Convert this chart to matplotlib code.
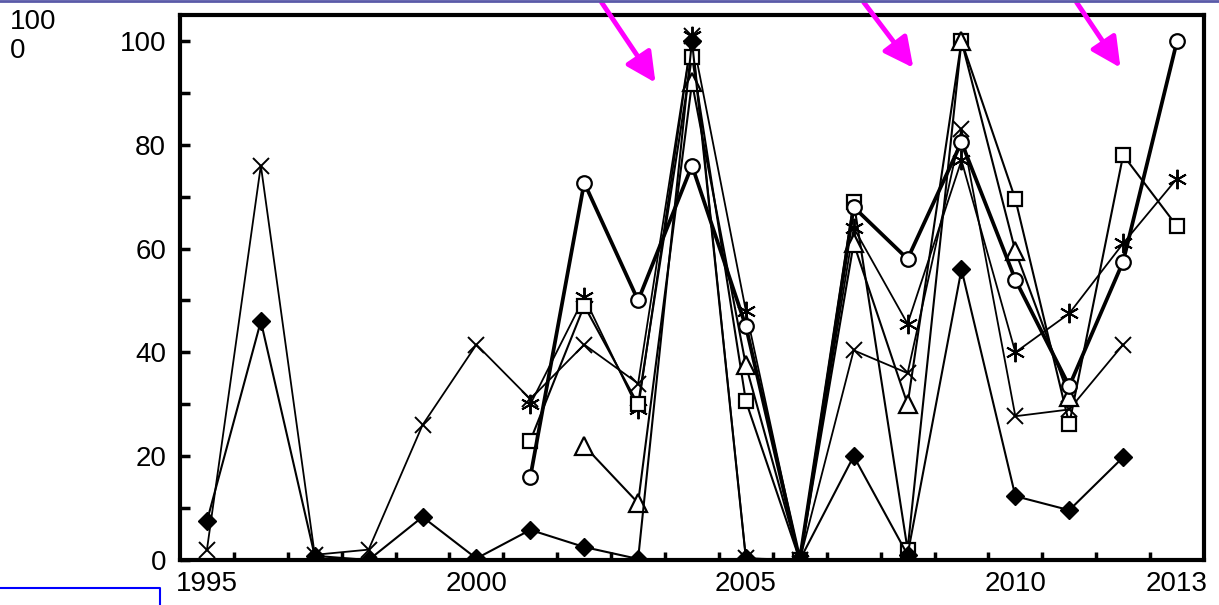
import numpy as np
import matplotlib.pyplot as plt
from matplotlib.patches import FancyArrowPatch
from matplotlib.lines import Line2D

plt.rcParams['font.family'] = ['Liberation Sans', 'DejaVu Sans']

nan = np.nan
years = list(range(1995, 2014))

diamond = [7.5, 46, 0.8, 0, 8.3, 0.3, 5.8, 2.5, 0.2, 100, 0.3, 0, 20, 1, 56, 12.3, 9.6, 19.8, nan]
cross = [2, 76, 1, 2, 26, 41.5, 31, 41.5, 34, 101, 0.3, 0, 40.4, 36, 83, 27.7, 29, 41.5, nan]
star = [nan] * 6 + [30, 50.6, 29, 101, 48, 0, 64, 45.5, 77, 40, 47.5, 61, 73.5]
circle = [nan] * 6 + [16, 72.7, 50, 76, 45, 0, 68, 58, 80.5, 54, 33.5, 57.5, 100]
square = [nan] * 6 + [23, 49, 30, 97, 30.6, 0, 69, 2, 100, 69.5, 26.2, 78, 64.3]
triangle = [nan] * 7 + [22, 11, 92, 37.5, 0, 61, 30, 100, 59.5, 31.5, nan, nan]

xtick_labels = [1995, 2000, 2005, 2010, 2013]

fig = plt.figure(figsize=(12.19, 6.05), dpi=100)
ax = fig.add_axes([180 / 1219, 1 - 560 / 605, 1024 / 1219, 545 / 605])

ax.plot(years, cross, color='black', lw=1.3, marker='x', ms=12, mew=1.4)
ax.plot(years, star, color='black', lw=1.3, marker=(6, 2, 0), ms=14, mew=1.4)
ax.plot(years, square, color='black', lw=1.5, marker='s', ms=10.5, mfc='white', mew=1.6)
ax.plot(years, triangle, color='black', lw=1.5, marker='^', ms=12.5, mfc='white', mew=1.6)
ax.plot(years, circle, color='black', lw=2.7, marker='o', ms=10.5, mfc='white', mew=1.6)
ax.plot(years, diamond, color='black', lw=1.5, marker='D', ms=9)

ax.set_xlim(1994.5, 2013.5)
ax.set_ylim(0, 105)
ax.set_yticks(range(0, 101, 20))
ax.set_yticks(range(0, 101, 10), minor=True)
ax.set_xticks(xtick_labels)
ax.set_xticks(np.arange(1995.5, 2013, 1.0), minor=True)

ax.tick_params(axis='y', which='both', direction='in', length=7, width=2.5, labelsize=20, pad=10)
ax.tick_params(axis='x', which='major', length=0, labelsize=20, pad=8)
ax.tick_params(axis='x', which='minor', direction='in', length=6, width=2.5)
for s in ax.spines.values():
    s.set_linewidth(3)

# decorations around the chart
fig.text(10 / 1219, 1 - 9 / 605, '100\n0', fontsize=20, va='top', ha='left', linespacing=1.15)
fig.add_artist(Line2D([0, 1], [1 - 1 / 605, 1 - 1 / 605], color='#5a5aa8', lw=2,
                      transform=fig.transFigure))
fig.add_artist(Line2D([0, 160 / 1219, 160 / 1219], [1 - 588 / 605, 1 - 588 / 605, 0],
                      color='blue', lw=1.5, transform=fig.transFigure))

arrows = [((600, 0), (657, 85)), ((862, 0), (915, 70)), ((1075, 0), (1122, 70))]
for (x0, y0), (x1, y1) in arrows:
    fig.add_artist(FancyArrowPatch((x0 / 1219, 1 - y0 / 605), (x1 / 1219, 1 - y1 / 605),
                                   transform=fig.transFigure, color='#ff00ff', lw=3.5,
                                   arrowstyle='-|>,head_length=9,head_width=4.5',
                                   mutation_scale=2))

fig.savefig('out.png', dpi=100)
